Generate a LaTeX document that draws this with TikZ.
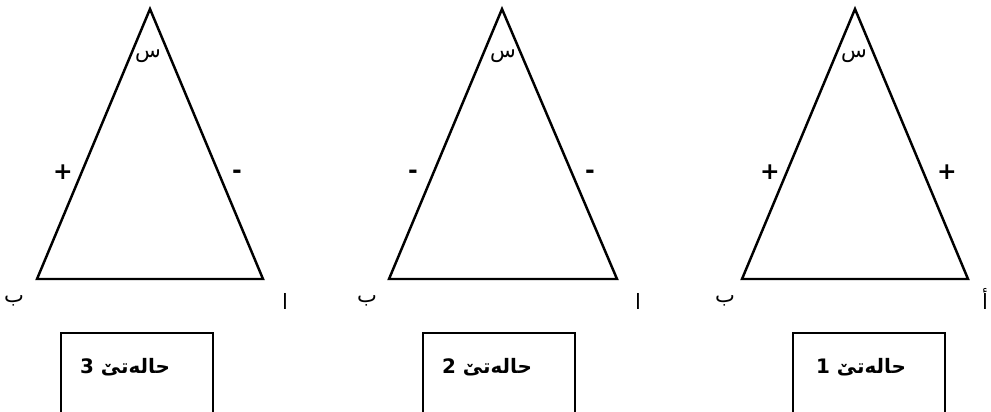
\documentclass[tikz,border=0pt]{standalone}
\usepackage{fontspec}
\TeXXeTstate=1
\newfontfamily\arabicfont[Script=Arabic]{DejaVu Sans}
\newfontfamily\signfont{DejaVu Sans}
\usetikzlibrary{positioning}

\begin{document}
\begin{tikzpicture}[
    x=0.03cm, y=-0.03cm,
    side/.style={line width=2.1pt, line join=miter},
    vlabel/.style={font=\arabicfont\fontsize{18}{20}\selectfont, inner sep=0pt},
    sign/.style={font=\signfont\bfseries\fontsize{20}{22}\selectfont, inner sep=0pt},
    casebox/.style={draw, line width=1.8pt, minimum width=152*0.03cm, minimum height=83*0.03cm, anchor=north, inner sep=0pt},
    casetext/.style={font=\arabicfont\bfseries\fontsize{17}{19}\selectfont, inner sep=0pt}
]
\useasboundingbox (0,0) rectangle (991,411);

% Triangle for case 3 (left)
\coordinate (s3) at (150,9);
\coordinate (b3) at (37,279);
\coordinate (a3) at (263,279);
\draw[side] (s3) -- (a3) -- (b3) -- cycle;
\node[vlabel] (ls3) at (148,56) {\beginR س\endR};
\node[vlabel] (lb3) at (14,301) {\beginR ب\endR};
\node[vlabel] (la3) at (285,301) {\beginR ا\endR};
\node[sign] (p3) at (63,172) {+};
\node[sign] (m3) at (237,174) {-};
\node[casebox] (box3) at (137,332) {};
\node[casetext] (t3) at (125,367) {\beginR حالەتێ 3\endR};

% Triangle for case 2 (middle)
\coordinate (s2) at (502,9);
\coordinate (b2) at (389,279);
\coordinate (a2) at (617,279);
\draw[side] (s2) -- (a2) -- (b2) -- cycle;
\node[vlabel] (ls2) at (503,56) {\beginR س\endR};
\node[vlabel] (lb2) at (367,301) {\beginR ب\endR};
\node[vlabel] (la2) at (638,301) {\beginR ا\endR};
\node[sign] (m2l) at (413,174) {-};
\node[sign] (m2r) at (590,174) {-};
\node[casebox] (box2) at (499,332) {};
\node[casetext] (t2) at (487,367) {\beginR حالەتێ 2\endR};

% Triangle for case 1 (right)
\coordinate (s1) at (855,9);
\coordinate (b1) at (742,279);
\coordinate (a1) at (968,279);
\draw[side] (s1) -- (a1) -- (b1) -- cycle;
\node[vlabel] (ls1) at (854,56) {\beginR س\endR};
\node[vlabel] (lb1) at (725,301) {\beginR ب\endR};
\node[vlabel] (la1) at (985,299) {\beginR أ\endR};
\node[sign] (p1l) at (770,172) {+};
\node[sign] (p1r) at (947,172) {+};
\node[casebox] (box1) at (869,332) {};
\node[casetext] (t1) at (861,367) {\beginR حالەتێ 1\endR};

\end{tikzpicture}
\end{document}
